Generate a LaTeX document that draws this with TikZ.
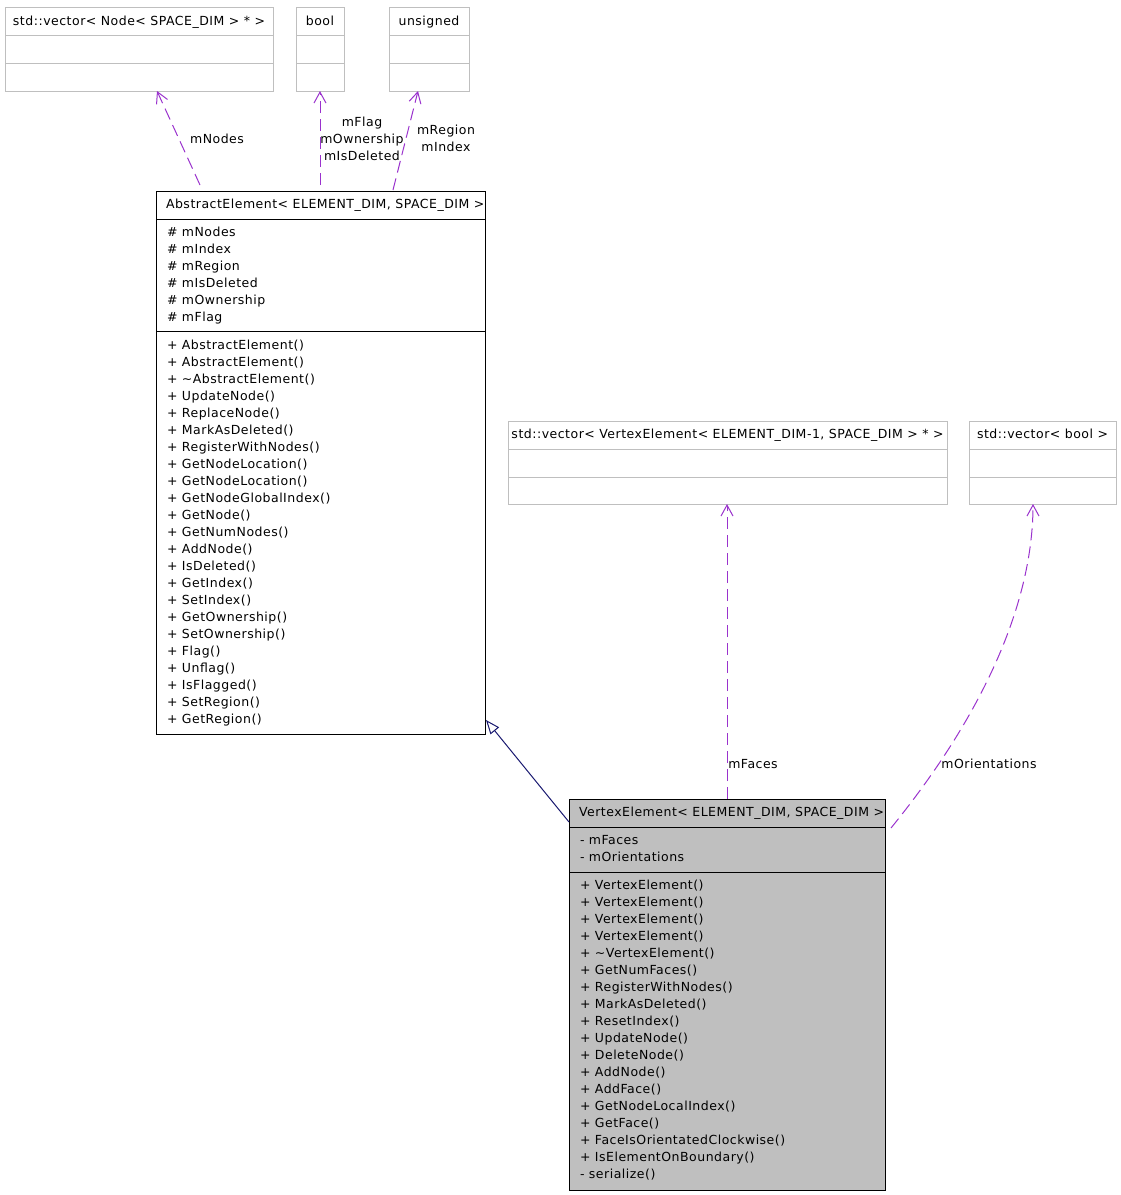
\documentclass[tikz,border=0pt]{standalone}
\usepackage{fontspec}
\setmainfont{DejaVu Sans}[LetterSpace=4.0]
\usetikzlibrary{arrows.meta,calc}
\definecolor{boxgray}{HTML}{BFBFBF}
\definecolor{edgepurple}{HTML}{9A32CD}
\definecolor{inhnavy}{HTML}{191970}
\begin{document}
\begin{tikzpicture}[x=1pt,y=-1pt,
  every node/.style={font=\fontsize{12.5}{17}\selectfont, inner sep=0pt, outer sep=0pt},
  txt/.style={anchor=base west},
  ctxt/.style={anchor=base},
  gbox/.style={draw=boxgray, line width=1pt, anchor=north west},
  bbox/.style={draw=black, line width=1pt, anchor=north west},
  gline/.style={draw=boxgray, line width=1pt},
  bline/.style={draw=black, line width=1pt},
  dep/.style={draw=edgepurple, line width=1pt, dash pattern=on 12pt off 6pt,
    -{Straight Barb[length=11pt,width=12pt,line width=1pt]}},
  inh/.style={draw=inhnavy, line width=1pt,
    -{Triangle[open,length=14pt,width=11pt,line width=1pt,fill=white]}},
  lbl/.style={align=center, font=\fontsize{12.5}{17}\selectfont}
]
\useasboundingbox (0,0) rectangle (1121,1195);

% ---- top boxes ----
\node[gbox, minimum width=268pt, minimum height=84pt] (nodevec) at (5,7) {};
\draw[gline] ($(nodevec.north west)+(0,28)$) -- ($(nodevec.north east)+(0,28)$);
\draw[gline] ($(nodevec.north west)+(0,56)$) -- ($(nodevec.north east)+(0,56)$);
\node[ctxt] (nodevecT) at ($(nodevec.north)+(0,18.5)$) {std::vector< Node< SPACE\_DIM > * >};

\node[gbox, minimum width=48pt, minimum height=84pt] (boolbox) at (296,7) {};
\draw[gline] ($(boolbox.north west)+(0,28)$) -- ($(boolbox.north east)+(0,28)$);
\draw[gline] ($(boolbox.north west)+(0,56)$) -- ($(boolbox.north east)+(0,56)$);
\node[ctxt] (boolboxT) at ($(boolbox.north)+(0,18.5)$) {bool};

\node[gbox, minimum width=80pt, minimum height=84pt] (unsbox) at (389,7) {};
\draw[gline] ($(unsbox.north west)+(0,28)$) -- ($(unsbox.north east)+(0,28)$);
\draw[gline] ($(unsbox.north west)+(0,56)$) -- ($(unsbox.north east)+(0,56)$);
\node[ctxt] (unsboxT) at ($(unsbox.north)+(0,18.5)$) {unsigned};

% ---- AbstractElement ----
\node[bbox, minimum width=329pt, minimum height=543pt] (ae) at (156,191) {};
\draw[bline] ($(ae.north west)+(0,28)$) -- ($(ae.north east)+(0,28)$);
\draw[bline] ($(ae.north west)+(0,140)$) -- ($(ae.north east)+(0,140)$);
\node[txt] (aeT) at ($(ae.north west)+(10,17.5)$) {AbstractElement< ELEMENT\_DIM, SPACE\_DIM >};
\foreach \t [count=\i from 0] in {\# mNodes,\# mIndex,\# mRegion,\# mIsDeleted,\# mOwnership,\# mFlag}
  \node[txt] (aeA\i) at ($(ae.north west)+(11,45.5+17*\i)$) {\t};
\foreach \t [count=\i from 0] in {+ AbstractElement(),+ AbstractElement(),+ \textasciitilde AbstractElement(),
  + UpdateNode(),+ ReplaceNode(),+ MarkAsDeleted(),+ RegisterWithNodes(),+ GetNodeLocation(),
  + GetNodeLocation(),+ GetNodeGlobalIndex(),+ GetNode(),+ GetNumNodes(),+ AddNode(),+ IsDeleted(),
  + GetIndex(),+ SetIndex(),+ GetOwnership(),+ SetOwnership(),+ Flag(),+ Unflag(),+ IsFlagged(),
  + SetRegion(),+ GetRegion()}
  \node[txt] (aeM\i) at ($(ae.north west)+(11,158.5+17*\i)$) {\t};

% ---- middle boxes ----
\node[gbox, minimum width=439pt, minimum height=83pt] (vecve) at (508,421) {};
\draw[gline] ($(vecve.north west)+(0,28)$) -- ($(vecve.north east)+(0,28)$);
\draw[gline] ($(vecve.north west)+(0,56)$) -- ($(vecve.north east)+(0,56)$);
\node[ctxt] (vecveT) at ($(vecve.north)+(0,17.5)$) {std::vector< VertexElement< ELEMENT\_DIM-1, SPACE\_DIM > * >};

\node[gbox, minimum width=147pt, minimum height=83pt] (vecb) at (969,421) {};
\draw[gline] ($(vecb.north west)+(0,28)$) -- ($(vecb.north east)+(0,28)$);
\draw[gline] ($(vecb.north west)+(0,56)$) -- ($(vecb.north east)+(0,56)$);
\node[ctxt] (vecbT) at ($(vecb.north)+(0,17.5)$) {std::vector< bool >};

% ---- VertexElement ----
\node[bbox, fill=boxgray, minimum width=316pt, minimum height=391pt] (ve) at (569,799) {};
\draw[bline] ($(ve.north west)+(0,28)$) -- ($(ve.north east)+(0,28)$);
\draw[bline] ($(ve.north west)+(0,73)$) -- ($(ve.north east)+(0,73)$);
\node[txt] (veT) at ($(ve.north west)+(10,17.5)$) {VertexElement< ELEMENT\_DIM, SPACE\_DIM >};
\foreach \t [count=\i from 0] in {- mFaces,- mOrientations}
  \node[txt] (veA\i) at ($(ve.north west)+(11,45.5+17*\i)$) {\t};
\foreach \t [count=\i from 0] in {+ VertexElement(),+ VertexElement(),+ VertexElement(),+ VertexElement(),
  + \textasciitilde VertexElement(),+ GetNumFaces(),+ RegisterWithNodes(),+ MarkAsDeleted(),
  + ResetIndex(),+ UpdateNode(),+ DeleteNode(),+ AddNode(),+ AddFace(),+ GetNodeLocalIndex(),
  + GetFace(),+ FaceIsOrientatedClockwise(),+ IsElementOnBoundary(),- serialize()}
  \node[txt] (veM\i) at ($(ve.north west)+(11,90.5+17*\i)$) {\t};

% ---- connectors ----
\draw[inh] ([shift={(0,23)}]ve.north west) -- ([shift={(1,-14)}]ae.south east);
\draw[dep] ([shift={(44,-6)}]ae.north west) -- ([shift={(152,0)}]nodevec.south west);
\draw[dep] ([shift={(164,-6)}]ae.north west) -- (boolbox.south);
\draw[dep] ([shift={(237,-1)}]ae.north west) -- ([shift={(29,0)}]unsbox.south west);
\draw[dep] ([shift={(158,0)}]ve.north west) -- ([shift={(219,0)}]vecve.south west);
\draw[dep] ([shift={(6,29)}]ve.north east) .. controls (995,700) and (1033,590) .. ([shift={(64,0)}]vecb.south west);

% ---- labels ----
\node[lbl] (lNodes) at (217,139) {mNodes};
\node[lbl] (lBool) at (362,139) {mFlag\\mOwnership\\mIsDeleted};
\node[lbl] (lUns) at (446,138.5) {mRegion\\mIndex};
\node[lbl] (lFaces) at (753,764) {mFaces};
\node[lbl] (lOrient) at (989,764) {mOrientations};
\end{tikzpicture}
\end{document}
